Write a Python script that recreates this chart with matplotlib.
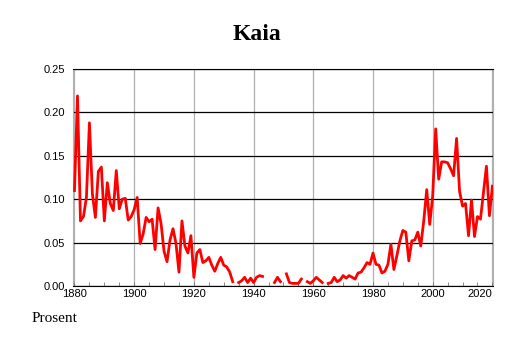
import numpy as np
import matplotlib.pyplot as plt

# Share of newborn girls named Kaia, per year (gaps = no data)
years = list(range(1880, 2021))
pct_1880s = [0.110, 0.219, 0.075, 0.080, 0.102, 0.188, 0.106, 0.079, 0.132, 0.137]
pct_1890s = [0.075, 0.119, 0.095, 0.087, 0.133, 0.089, 0.100, 0.101, 0.076, 0.080]
pct_1900s = [0.088, 0.102, 0.049, 0.060, 0.079, 0.074, 0.077, 0.042, 0.090, 0.072]
pct_1910s = [0.040, 0.028, 0.053, 0.066, 0.049, 0.016, 0.075, 0.046, 0.038, 0.058]
pct_1920s = [0.010, 0.038, 0.042, 0.027, 0.029, 0.033, 0.024, 0.017, 0.026, 0.033]
pct_1930s = [0.024, 0.022, 0.016, 0.005, None, 0.004, 0.006, 0.010, 0.004, 0.009]
pct_1940s = [0.004, 0.010, 0.012, 0.011, None, None, None, 0.004, 0.010, 0.005]
pct_1950s = [None, 0.014, 0.004, 0.003, 0.003, 0.003, 0.008, None, 0.005, 0.003]
pct_1960s = [0.006, 0.010, 0.007, 0.004, None, 0.003, 0.004, 0.010, 0.005, 0.007]
pct_1970s = [0.012, 0.009, 0.012, 0.010, 0.008, 0.015, 0.016, 0.021, 0.027, 0.025]
pct_1980s = [0.038, 0.025, 0.024, 0.015, 0.017, 0.025, 0.048, 0.019, 0.035, 0.052]
pct_1990s = [0.064, 0.062, 0.029, 0.052, 0.053, 0.062, 0.046, 0.075, 0.111, 0.071]
pct_2000s = [0.104, 0.181, 0.123, 0.143, 0.143, 0.142, 0.135, 0.127, 0.170, 0.109]
pct_2010s = [0.092, 0.095, 0.058, 0.099, 0.057, 0.080, 0.077, 0.108, 0.138, 0.081]
pct_2020s = [0.115]

values = (pct_1880s + pct_1890s + pct_1900s + pct_1910s + pct_1920s + pct_1930s
          + pct_1940s + pct_1950s + pct_1960s + pct_1970s + pct_1980s + pct_1990s
          + pct_2000s + pct_2010s + pct_2020s)
values = np.array([np.nan if v is None else v for v in values], dtype=float)

fig = plt.figure(figsize=(5.14, 3.43), dpi=100)
ax = fig.add_axes([73 / 514, 1 - 286 / 343, 420 / 514, 217 / 343])

ax.plot(years, values, color='#ff0000', linewidth=2.0, zorder=3)

ax.set_xlim(1879.5, 2020.2)
ax.set_ylim(0, 0.25)
ax.set_xticks(range(1880, 2021, 20))
ax.set_xticks(range(1880, 2021, 5), minor=True)
ax.set_yticks(np.arange(0, 0.26, 0.05))
ax.set_yticklabels([f'{v:.2f}' for v in np.arange(0, 0.26, 0.05)])

ax.yaxis.grid(True, color='black', linewidth=0.9)
ax.xaxis.grid(True, color='#b0b0b0', linewidth=0.9)
ax.set_axisbelow(True)
for side in ['left', 'right']:
    ax.spines[side].set_color('#b0b0b0')
ax.spines['bottom'].set_color('black')
ax.spines['top'].set_color('black')

ax.tick_params(axis='y', length=0, pad=6, labelsize=8)
ax.tick_params(axis='x', which='both', direction='in', length=3, width=0.6,
               color='#777777', labelsize=8, pad=2)
labels = ax.get_xticklabels()
labels[-1].set_horizontalalignment('right')

for lab in ax.get_xticklabels() + ax.get_yticklabels():
    lab.set_family('Liberation Sans')

fig.text(0.5, 1 - 34 / 343, 'Kaia', ha='center', va='center',
         family='Liberation Serif', fontweight='bold', fontsize=17)
fig.text(32 / 514, 1 - 318 / 343, 'Prosent', ha='left', va='center',
         family='Liberation Serif', fontsize=11)

fig.savefig('out.png', dpi=100)
